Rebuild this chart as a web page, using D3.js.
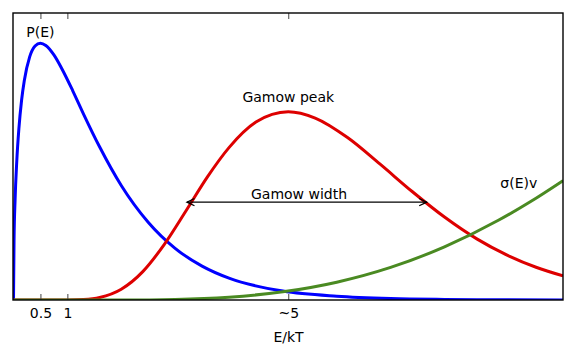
<!DOCTYPE html>
<html>
<head>
<meta charset="utf-8">
<script src="https://cdn.jsdelivr.net/npm/d3@7"></script>
<style>
  html, body { margin: 0; padding: 0; background: #fff; }
  svg { display: block; font-family: "DejaVu Sans", sans-serif; }
</style>
</head>
<body>
<svg id="chart" width="576" height="357"></svg>
<script>
// ---- data ----
const tickValues = [0.5, 1, 5.1];
const tickLabels = ["0.5", "1", "~5"];
const xLabel = "E/kT";

// P(E): Maxwell-Boltzmann energy distribution
const blueE = [0, 0.01, 0.03, 0.06, 0.1, 0.15, 0.2, 0.3, 0.4, 0.5, 0.6, 0.75, 0.9, 1.1, 1.3, 1.6, 2.0, 2.5, 3.0, 3.5, 4.0, 5.0, 6.0, 7.0, 8.0, 9.0, 10.2];
const blueV = [0, 0.207, 0.351, 0.481, 0.597, 0.696, 0.764, 0.847, 0.885, 0.895, 0.887, 0.854, 0.805, 0.729, 0.648, 0.533, 0.399, 0.271, 0.180, 0.118, 0.076, 0.031, 0.013, 0.005, 0.002, 0.0008, 0.0002];

// Gamow peak
const redE = [0, 0.5, 1.0, 1.3, 1.6, 2.0, 2.4, 2.8, 3.2, 3.6, 4.0, 4.5, 5.1, 5.6, 6.2, 6.8, 7.4, 8.0, 8.6, 9.2, 9.7, 10.2];
const redV = [0, 0, 0.0002, 0.0018, 0.0088, 0.0376, 0.099, 0.194, 0.310, 0.429, 0.531, 0.620, 0.656, 0.634, 0.566, 0.474, 0.378, 0.289, 0.213, 0.153, 0.114, 0.084];

// sigma(E)v
const greenE = [0, 1.0, 2.0, 3.0, 4.0, 5.0, 6.0, 7.0, 8.0, 9.0, 9.6, 10.2];
const greenV = [0, 0, 0.0002, 0.0021, 0.0099, 0.0285, 0.0621, 0.1136, 0.1851, 0.2777, 0.3433, 0.416];

// annotations (data units)
const labelNames = ["P(E)", "Gamow peak", "Gamow width", "σ(E)v"];
const labelE = [0.5, 5.1, 5.3, 9.38];
const labelV = [0.915, 0.69, 0.352, 0.389];
const arrowE = [3.22, 7.67];
const arrowV = 0.341;

// ---- layout ----
const svg = d3.select("#chart");
const L = 13, R = 563, T = 13, B = 300;
const fontSize = 14;

const x = d3.scaleLinear().domain([0, 10.2]).range([13.5, 563]);
const y = d3.scaleLinear().domain([0, 1]).range([B, T]);

svg.append("defs").append("clipPath").attr("id", "clip")
  .append("rect").attr("x", L).attr("y", T).attr("width", R - L).attr("height", B - T);

const line = d3.line().x(d => x(d[0])).y(d => y(d[1])).curve(d3.curveMonotoneX);

const series = [
  { e: blueE, v: blueV, color: "#0000ff" },
  { e: redE, v: redV, color: "#dd0000" },
  { e: greenE, v: greenV, color: "#4a8a22" }
];

const plot = svg.append("g").attr("clip-path", "url(#clip)");
series.forEach(s => {
  plot.append("path")
    .attr("d", line(s.e.map((e, i) => [e, s.v[i]])))
    .attr("fill", "none")
    .attr("stroke", s.color)
    .attr("stroke-width", 3)
    .attr("stroke-linejoin", "round");
});

// axes (ticks inward on bottom and top)
const xAxis = d3.axisBottom(x).tickValues(tickValues)
  .tickFormat((d, i) => tickLabels[i])
  .tickSizeInner(-6).tickSizeOuter(0).tickPadding(8.4);
const gx = svg.append("g").attr("transform", `translate(0,${B})`).call(xAxis);
gx.select(".domain").remove();
gx.selectAll(".tick line").attr("stroke", "#444").attr("stroke-width", 1);
gx.selectAll(".tick text").attr("fill", "#000")
  .style("font-family", "DejaVu Sans").style("font-size", fontSize + "px");

const xAxisTop = d3.axisTop(x).tickValues(tickValues).tickFormat("")
  .tickSizeInner(-6).tickSizeOuter(0);
const gt = svg.append("g").attr("transform", `translate(0,${T})`).call(xAxisTop);
gt.select(".domain").remove();
gt.selectAll(".tick line").attr("stroke", "#444").attr("stroke-width", 1);

// frame
svg.append("rect")
  .attr("x", L).attr("y", T).attr("width", R - L).attr("height", B - T)
  .attr("fill", "none").attr("stroke", "#000").attr("stroke-width", 1.4);

// x label
svg.append("text")
  .attr("x", (L + R) / 2 + 0.5).attr("y", 341.7)
  .attr("text-anchor", "middle")
  .style("font-size", fontSize + "px")
  .text(xLabel);

// text annotations
labelNames.forEach((t, i) => {
  svg.append("text")
    .attr("x", x(labelE[i])).attr("y", y(labelV[i]))
    .attr("text-anchor", "middle")
    .style("font-size", fontSize + "px")
    .text(t);
});

// double-headed arrow (Gamow width)
const ay = y(arrowV), ax1 = x(arrowE[0]), ax2 = x(arrowE[1]);
const ag = svg.append("g").attr("stroke", "#000").attr("stroke-width", 1.3).attr("fill", "none");
ag.append("line").attr("x1", ax1).attr("x2", ax2).attr("y1", ay).attr("y2", ay);
ag.append("path").attr("d", `M${ax1 + 7.5},${ay - 3.6}L${ax1},${ay}L${ax1 + 7.5},${ay + 3.6}`);
ag.append("path").attr("d", `M${ax2 - 7.5},${ay - 3.6}L${ax2},${ay}L${ax2 - 7.5},${ay + 3.6}`);
</script>
</body>
</html>
